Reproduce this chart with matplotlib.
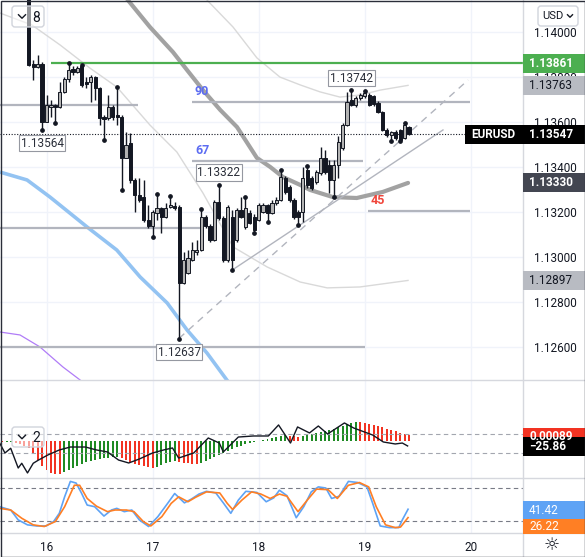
import matplotlib.pyplot as plt
from matplotlib.patches import Rectangle, FancyBboxPatch
from matplotlib.lines import Line2D
from matplotlib.transforms import Affine2D

plt.rcParams['font.family'] = ['Roboto', 'DejaVu Sans']

# hourly EURUSD candles, hour 0 = the 16th 00:00
first_hour = -4
opens = [1.14231, 1.13858, 1.13845, 1.13858, 1.13600, 1.13667, 1.13676, 1.13667, 1.13733, 1.13791,
         1.13836, 1.13822, 1.13849, 1.13778, 1.13778, 1.13800, 1.13751, 1.13622, 1.13618, 1.13667,
         1.13631, 1.13622, 1.13440, 1.13507, 1.13343, 1.13276, 1.13267, 1.13165, 1.13139, 1.13196,
         1.13218, 1.13179, 1.13223, 1.13227, 1.13223, 1.12887, 1.12930, 1.12988, 1.13023, 1.13032,
         1.13179, 1.13139, 1.13076, 1.13245, 1.13174, 1.12988, 1.13179, 1.13076, 1.13210, 1.13134,
         1.13196, 1.13179, 1.13165, 1.13201, 1.13232, 1.13196, 1.13241, 1.13254, 1.13352, 1.13312,
         1.13254, 1.13201, 1.13201, 1.13387, 1.13352, 1.13334, 1.13374, 1.13440, 1.13409, 1.13343,
         1.13409, 1.13485, 1.13587, 1.13698, 1.13676, 1.13707, 1.13716, 1.13720, 1.13716, 1.13685,
         1.13645, 1.13565, 1.13543, 1.13556, 1.13565, 1.13529, 1.13578]
highs = [1.14275, 1.13876, 1.13898, 1.13867, 1.13720, 1.13698, 1.13680, 1.13778, 1.13800, 1.13861,
         1.13849, 1.13849, 1.13853, 1.13800, 1.13809, 1.13805, 1.13756, 1.13631, 1.13720, 1.13676,
         1.13756, 1.13631, 1.13556, 1.13551, 1.13352, 1.13352, 1.13343, 1.13232, 1.13210, 1.13281,
         1.13223, 1.13241, 1.13272, 1.13245, 1.13232, 1.13023, 1.13032, 1.13068, 1.13077, 1.13214,
         1.13187, 1.13147, 1.13254, 1.13322, 1.13183, 1.13232, 1.13210, 1.13218, 1.13267, 1.13267,
         1.13210, 1.13192, 1.13241, 1.13241, 1.13236, 1.13254, 1.13267, 1.13387, 1.13361, 1.13321,
         1.13263, 1.13210, 1.13401, 1.13405, 1.13361, 1.13387, 1.13489, 1.13476, 1.13432, 1.13432,
         1.13538, 1.13596, 1.13735, 1.13742, 1.13716, 1.13729, 1.13738, 1.13729, 1.13720, 1.13694,
         1.13649, 1.13574, 1.13560, 1.13565, 1.13569, 1.13596, 1.13583]
lows = [1.13849, 1.13787, 1.13840, 1.13564, 1.13600, 1.13622, 1.13596, 1.13662, 1.13729, 1.13778,
        1.13809, 1.13818, 1.13756, 1.13751, 1.13689, 1.13698, 1.13587, 1.13520, 1.13609, 1.13609,
        1.13587, 1.13298, 1.13440, 1.13329, 1.13201, 1.13245, 1.13156, 1.13130, 1.13090, 1.13165,
        1.13107, 1.13174, 1.13218, 1.13210, 1.12637, 1.12881, 1.12926, 1.12983, 1.13010, 1.13028,
        1.13130, 1.13068, 1.13072, 1.13165, 1.12979, 1.12979, 1.12943, 1.13068, 1.13174, 1.13125,
        1.13147, 1.13107, 1.13161, 1.13196, 1.13156, 1.13192, 1.13232, 1.13250, 1.13281, 1.13245,
        1.13170, 1.13143, 1.13156, 1.13307, 1.13298, 1.13325, 1.13365, 1.13369, 1.13285, 1.13267,
        1.13352, 1.13476, 1.13583, 1.13671, 1.13667, 1.13698, 1.13707, 1.13671, 1.13671, 1.13640,
        1.13560, 1.13534, 1.13516, 1.13520, 1.13516, 1.13525, 1.13542]
closes = [1.13853, 1.13845, 1.13858, 1.13600, 1.13676, 1.13676, 1.13667, 1.13733, 1.13791, 1.13831,
          1.13822, 1.13840, 1.13765, 1.13769, 1.13800, 1.13751, 1.13618, 1.13614, 1.13667, 1.13622,
          1.13622, 1.13440, 1.13498, 1.13343, 1.13276, 1.13254, 1.13165, 1.13139, 1.13201, 1.13218,
          1.13179, 1.13218, 1.13232, 1.13218, 1.12887, 1.12988, 1.12997, 1.13032, 1.13032, 1.13179,
          1.13139, 1.13076, 1.13245, 1.13174, 1.12988, 1.13223, 1.12988, 1.13210, 1.13179, 1.13218,
          1.13152, 1.13121, 1.13232, 1.13232, 1.13196, 1.13241, 1.13254, 1.13356, 1.13290, 1.13254,
          1.13179, 1.13179, 1.13352, 1.13321, 1.13307, 1.13378, 1.13440, 1.13378, 1.13343, 1.13409,
          1.13511, 1.13587, 1.13689, 1.13676, 1.13707, 1.13720, 1.13729, 1.13676, 1.13680, 1.13645,
          1.13565, 1.13543, 1.13556, 1.13529, 1.13520, 1.13587, 1.13547]

day_labels = ['16', '17', '18', '19', '20']
day_hours = [0, 24, 48, 72, 96]
price_ticks = [1.126, 1.128, 1.130, 1.132, 1.134, 1.136, 1.138, 1.140]

pivot_high_idx = [9, 12, 20, 29, 32, 39, 43, 49, 57, 63, 73, 76, 85]
pivot_low_idx = [3, 6, 17, 21, 28, 34, 46, 51, 54, 61, 69, 82, 84]
# candles carrying a price tag, and whether the tag hangs below (low) or above (high)
tagged_idx = [3, 43, 73, 34]
tagged_side = ['low', 'high', 'high', 'low']

resistance = 1.13861
resistance_from = 5

level_prices = [1.13675, 1.13690, 1.13427, 1.13206, 1.13130, 1.12602]
level_from = [-10.6, 32.9, 32.9, 72.7, -10.6, -10.6]
level_to = [20.7, 95.8, 71.6, 95.8, 34.7, 72.1]
level_tags = ['', '90', '67', '45', '', '']
level_tag_colors = ['', '#5c6cf2', '#5c6cf2', '#f0453a', '', '']

ma_h = [16.2, 18.4, 23.4, 28.6, 31.8, 35.4, 39.3, 43.1, 47.6, 50.6, 53.5, 57.4, 59.6, 64.8, 70.2, 76.1, 81.8]
ma_v = [1.14209, 1.14142, 1.14022, 1.13911, 1.13831, 1.13742, 1.13654, 1.13578, 1.13441, 1.13401,
        1.13356, 1.13321, 1.13299, 1.13267, 1.13263, 1.13290, 1.13330]
band_up_h = [33.6, 36.3, 42.2, 47.6, 52.8, 57.4, 61.9, 66.4, 70.9, 75.5, 81.8]
band_up_v = [1.14209, 1.14142, 1.14022, 1.13885, 1.13800, 1.13765, 1.13734, 1.13711, 1.13720, 1.13742, 1.13763]
band_lo_h = [-10.5, -3.3, 3.1, 9.8, 15.9, 23.4, 29.5, 35.4, 42.2, 49.9, 57.4, 63.5, 70.9, 81.8]
band_lo_v = [1.14084, 1.14031, 1.13942, 1.13840, 1.13756, 1.13587, 1.13467, 1.13285, 1.13046, 1.12957,
             1.12890, 1.12864, 1.12868, 1.12897]
blue_h = [-10.5, -4.4, 0.8, 9.2, 15.9, 21.2, 27.3, 31.8, 36.3, 40.8, 43.8]
blue_v = [1.13378, 1.13343, 1.13267, 1.13134, 1.13032, 1.12912, 1.12797, 1.12677, 1.12575, 1.12455, 1.12380]
purple_h = [-10.5, -6.0, -1.5, 3.7, 7.6, 9.8]
purple_v = [1.12668, 1.12655, 1.12602, 1.12513, 1.12455, 1.12420]
trend_solid_h = [42, 89.7]
trend_solid_v = [1.12943, 1.13565]
trend_dash_h = [30, 95.4]
trend_dash_v = [1.12640, 1.13787]

# MACD histogram (units of 1e-4), one bar per hour from hour -10
hist_first_hour = -10
hist_e4 = [-1.5, -1.5, -1.5, -3, -4.4, -7.4,
           -10.4, -17.8, -28.1, -37, -42.9, -47.4, -48.5, -49,
           -45.9, -42.9, -40, -37, -34, -31, -29.6, -28.1, -26.6, -25.2, -24.5, -23.7, -23,
           -25.2, -28.1, -31, -34, -35.5, -37, -38.5, -40,
           -38.5, -35.5, -32.6, -31, -29.6,
           -31, -32.6, -33.3, -34, -34.8,
           -32.6, -29.6, -26.6, -23.7, -20.7, -17.8, -14.8, -11.8, -8.9, -7.4, -4.4, -3, -1.5,
           0.7, 1.5, 3, 4.4, 5.9, 7.4, 8.9,
           7.4, 6.7, 5.9,
           7.4, 8.9, 10.4, 11.8, 13.3, 14.8, 16.3, 17.8, 20.7, 22.2, 25.2, 26.6, 28.1,
           27.4, 26.6, 25.2, 23.7, 22.2, 20.7, 17.8, 16.3, 14.8, 11.8, 10.4, 8.9]
cci_h = [-10.6, -9.4, -8.1, -6.4, -5.6, -4.3, -3.0, -1.8, 0.3, 2.9, 5.4, 8.8, 11.3, 13.8, 16.3, 18.6,
         21.0, 24.0, 26.5, 28.5, 29.9, 33.3, 36.6, 39.1, 40.0, 43.4, 46.8, 50.2, 52.5, 55.2, 56.8,
         59.5, 61.5, 63.6, 67.4, 69.5, 73.8, 76.2, 78.9, 80.5, 81.7]
cci_v = [5, -100, -50, -258, -208, -310, -208, -174, -121, -68, -37, -37, -68, -89, -174, -205,
         -163, -100, -68, -47, -153, -100, 58, 5, -89, 68, 79, 79, 195, 5, 174,
         111, 184, 100, 216, 163, 89, 16, -5, 5, -25.86]
stoch_k_h = [-10.6, -8.1, -6.4, -4.3, -2.2, -0.1, 1.6, 2.9, 4.1, 5.4, 6.7, 7.9, 9.2, 10.9, 13.0, 14.7,
             15.9, 17.6, 19.3, 21.0, 23.1, 25.2, 27.4, 29.0, 31.2, 32.8, 34.5, 36.2, 38.3, 40.0, 41.7,
             43.4, 45.1, 47.6, 49.7, 51.4, 52.7, 54.4, 56.5, 58.2, 59.9, 61.5, 63.2, 64.5, 66.2, 68.3,
             70.4, 72.5, 73.8, 75.5, 77.6, 79.7, 80.5, 81.8]
stoch_k_v = [46, 40, 22, 13, 11, 11, 19, 34, 64, 92, 89, 71, 49, 46, 29, 40,
             43, 37, 40, 22, 10, 28, 52, 70, 53, 60, 69, 74, 71, 53, 34,
             58, 74, 72, 55, 62, 76, 66, 26, 46, 73, 82, 80, 61, 65, 92,
             90, 82, 52, 11, 8, 8, 22, 41.42]
stoch_d_h = [-10.6, -8.1, -5.6, -3.0, -0.5, 2.0, 4.1, 6.3, 7.5, 9.2, 11.3, 13.8, 15.5, 18.1, 19.8,
             21.9, 23.6, 26.1, 28.2, 29.9, 32.0, 33.7, 36.2, 39.2, 40.9, 42.1, 44.2, 46.4, 48.5, 50.6,
             52.7, 54.4, 56.9, 59.0, 61.1, 63.7, 65.8, 68.3, 70.8, 72.9, 74.6, 76.7, 78.9, 80.1, 81.8]
stoch_d_v = [43, 40, 25, 13, 10, 19, 46, 85, 85, 61, 47, 37, 40, 40, 37,
             19, 11, 28, 52, 64, 55, 63, 73, 71, 52, 41, 58, 73, 69, 61,
             69, 65, 37, 58, 78, 77, 61, 85, 90, 82, 46, 13, 8, 9, 26.22]

W, H = 585, 557
fig = plt.figure(figsize=(W / 100, H / 100), dpi=100)
px = Affine2D().scale(1 / W, -1 / H).translate(0, 1) + fig.transFigure


def axes_px(x0, y0, x1, y1):
    return fig.add_axes([x0 / W, 1 - y1 / H, (x1 - x0) / W, (y1 - y0) / H])


ax = axes_px(0, 0, 523, 380)
ax1 = axes_px(0, 380, 523, 478)
ax2 = axes_px(0, 478, 523, 533)
X0, DX = 46.5, 4.42
for a in (ax, ax1, ax2):
    a.set_xlim(-X0 / DX, (523 - X0) / DX)
    for s in a.spines.values():
        s.set_visible(False)
    a.set_xticks(day_hours)
    a.grid(axis='x', color='#f0f3fa', lw=1)
    a.tick_params(length=0)
    a.set_axisbelow(True)
ax.set_xticklabels([])
ax1.set_xticklabels([])
ax1.set_yticks([])
ax2.set_yticks([])
ax2.set_xticklabels(day_labels)
ax2.tick_params(axis='x', pad=6, labelsize=8.5, labelcolor='#131722')

# ---- price panel
ax.set_ylim(1.12455, 1.14142)
ax.set_yticks(price_ticks)
ax.set_yticklabels(['%.5f' % p for p in price_ticks])
ax.yaxis.tick_right()
ax.tick_params(axis='y', pad=8, labelsize=8.5, labelcolor='#131722')
ax.grid(axis='y', color='#f0f3fa', lw=1)

hours = [first_hour + i for i in range(len(opens))]
ax.vlines(hours, lows, highs, color='#131722', lw=1, zorder=4)
bottoms = [min(o, c) for o, c in zip(opens, closes)]
sizes = [max(abs(c - o), 0.00002) for o, c in zip(opens, closes)]
faces = ['#b3b3b3' if c >= o else '#131722' for o, c in zip(opens, closes)]
ax.bar(hours, sizes, bottom=bottoms, width=0.72, color=faces, edgecolor='#131722', lw=0.7, zorder=5)
ax.plot([hours[i] for i in pivot_high_idx], [highs[i] for i in pivot_high_idx], 'o', ms=2.4, color='#131722', zorder=6)
ax.plot([hours[i] for i in pivot_low_idx], [lows[i] for i in pivot_low_idx], 'o', ms=2.4, color='#131722', zorder=6)

ax.plot(blue_h, blue_v, color='#93c3f2', lw=2.6, zorder=2, solid_capstyle='butt')
ax.plot(purple_h, purple_v, color='#b07cf7', lw=0.9, zorder=2)
ax.plot(band_up_h, band_up_v, color='#d9d9d9', lw=1, zorder=2)
ax.plot(band_lo_h, band_lo_v, color='#d9d9d9', lw=1, zorder=2)
ax.plot(ma_h, ma_v, color='#a2a2a2', lw=3, zorder=3, solid_capstyle='round')
ax.plot(trend_solid_h, trend_solid_v, color='#b2b5be', lw=1, zorder=3)
ax.plot(trend_dash_h, trend_dash_v, color='#b2b5be', lw=1, ls=(0, (5, 4)), zorder=3)

for p, x0, x1, tag, col in zip(level_prices, level_from, level_to, level_tags, level_tag_colors):
    ax.hlines(p, x0, x1, color='#b2b5be', lw=1.6, zorder=3)
    if tag:
        ax.annotate(tag, (x0, p), xytext=(3, 4), textcoords='offset pixels', color=col,
                    fontsize=9, fontweight='bold', va='bottom', ha='left', zorder=7)

xmax = (523 - X0) / DX
ax.hlines(resistance, hours[resistance_from], xmax, color='#4caf50', lw=1.6, zorder=3)
last_close = closes[-1]
ax.hlines(last_close, -X0 / DX, (465 - X0) / DX, color='#131722', lw=0.8, ls=(0, (1, 1.5)), zorder=3)

for i, side in zip(tagged_idx, tagged_side):
    val = lows[i] if side == 'low' else highs[i]
    dy = -13 if side == 'low' else 12
    ax.annotate('%.5f' % val, (hours[i], val), xytext=(0, dy), textcoords='offset pixels',
                ha='center', va='center', fontsize=8.5, color='#2a2e39', zorder=8,
                bbox=dict(boxstyle='square,pad=0.15', fc='white', ec='#9598a1', lw=0.8))


def ypix(a, v):
    return H - a.transData.transform((0, v))[1]


def right_box(yc, text, fc, tc, bold=False, x0=523, h=19):
    fig.add_artist(Rectangle((x0, yc - h / 2), W - x0, h, transform=px, fc=fc, ec='none', zorder=5))
    fig.text(529, yc, text, transform=px, color=tc, fontsize=8.5, va='center', ha='left',
             fontweight='bold' if bold else 'normal', zorder=6)


right_box(ypix(ax, resistance), '%.5f' % resistance, '#4caf50', 'white', True)
right_box(ypix(ax, band_up_v[-1]), '%.5f' % band_up_v[-1], '#b8bbc2', '#131722')
right_box(ypix(ax, last_close), '%.5f' % last_close, '#000000', 'white', True, x0=465)
fig.text(471, ypix(ax, last_close), 'EURUSD', transform=px, color='white', fontsize=8.5,
         fontweight='bold', va='center', ha='left', zorder=6)
right_box(ypix(ax, ma_v[-1]), '%.5f' % ma_v[-1], '#434651', 'white', True)
right_box(ypix(ax, band_lo_v[-1]), '%.5f' % band_lo_v[-1], '#b8bbc2', '#131722')

# ---- MACD / CCI panel
ax1.set_ylim(-54.8, 90.3)
hist_hours = [hist_first_hour + i for i in range(len(hist_e4))]
hist_cols = ['#f23322'] + ['#1f8b24' if b >= a else '#f23322' for a, b in zip(hist_e4[:-1], hist_e4[1:])]
ax1.bar(hist_hours, hist_e4, width=0.45, color=hist_cols, zorder=2)
ax1c = ax1.twinx()
ax1c.set_ylim(-363, 668)
ax1c.set_yticks([])
for s in ax1c.spines.values():
    s.set_visible(False)
for lvl in (100, -100):
    ax1c.axhline(lvl, color='#a3a6af', lw=0.8, ls=(0, (4, 3)), zorder=1)
ax1c.plot(cci_h, cci_v, color='#131722', lw=1, zorder=3)
right_box(437, '%.5f' % (hist_e4[-1] * 1e-4), '#f23322', 'white', True)
right_box(446.5, '\u2212%.2f' % abs(cci_v[-1]), '#000000', 'white', True)

# ---- stochastic panel
ax2.set_ylim(-1.8, 98.2)
for lvl in (80, 20):
    ax2.axhline(lvl, color='#787b86', lw=0.8, ls=(0, (4, 3)), zorder=1)
ax2.plot(stoch_k_h, stoch_k_v, color='#5ea3f5', lw=1.2, zorder=3)
ax2.plot(stoch_d_h, stoch_d_v, color='#ff7f24', lw=1.2, zorder=3)
right_box(510, '%.2f' % stoch_k_v[-1], '#5ea3f5', 'white', False, h=18)
right_box(526, '%.2f' % stoch_d_v[-1], '#ff7f24', 'white', False, h=15)

# ---- chrome: separators, buttons, frame
for y in (380, 478, 533):
    fig.add_artist(Line2D([0, W], [y, y], transform=px, color='#d6d8de', lw=1, zorder=4))
fig.add_artist(Line2D([523, 523], [0, H], transform=px, color='#d6d8de', lw=1, zorder=4))


def chevron(cx, cy, s=3.5):
    fig.add_artist(Line2D([cx - s, cx, cx + s], [cy - s / 2, cy + s / 2, cy - s / 2], transform=px,
                          color='#131722', lw=1, zorder=7))


for (bx, by, bw, bh, label) in [(12, 6, 32, 21, '8'), (12, 427, 32, 20, '2')]:
    fig.add_artist(FancyBboxPatch((bx, by), bw, bh, boxstyle='round,pad=0,rounding_size=3',
                                  transform=px, fc=(1, 1, 1, 0.55), ec='#d1d4dc', lw=1, zorder=6))
    chevron(bx + 10, by + bh / 2)
    fig.text(bx + 24, by + bh / 2 + 1, label, transform=px, fontsize=10, color='#131722',
             ha='center', va='center', zorder=7)

fig.add_artist(FancyBboxPatch((538, 6), 40, 20, boxstyle='round,pad=0,rounding_size=3',
                              transform=px, fc='white', ec='#d1d4dc', lw=1, zorder=6))
fig.text(553, 16, 'USD', transform=px, fontsize=8, color='#131722', ha='center', va='center', zorder=7)
chevron(570, 16, 2.5)
fig.text(552, 545, '\u263c', transform=px, fontsize=13, family='DejaVu Sans', color='#131722',
         ha='center', va='center', zorder=7)
fig.add_artist(Rectangle((0.5, 0.5), W - 1, H - 1, transform=px, fc='none', ec='#2a2e39', lw=1, zorder=9))

fig.savefig('out.png', dpi=100)
